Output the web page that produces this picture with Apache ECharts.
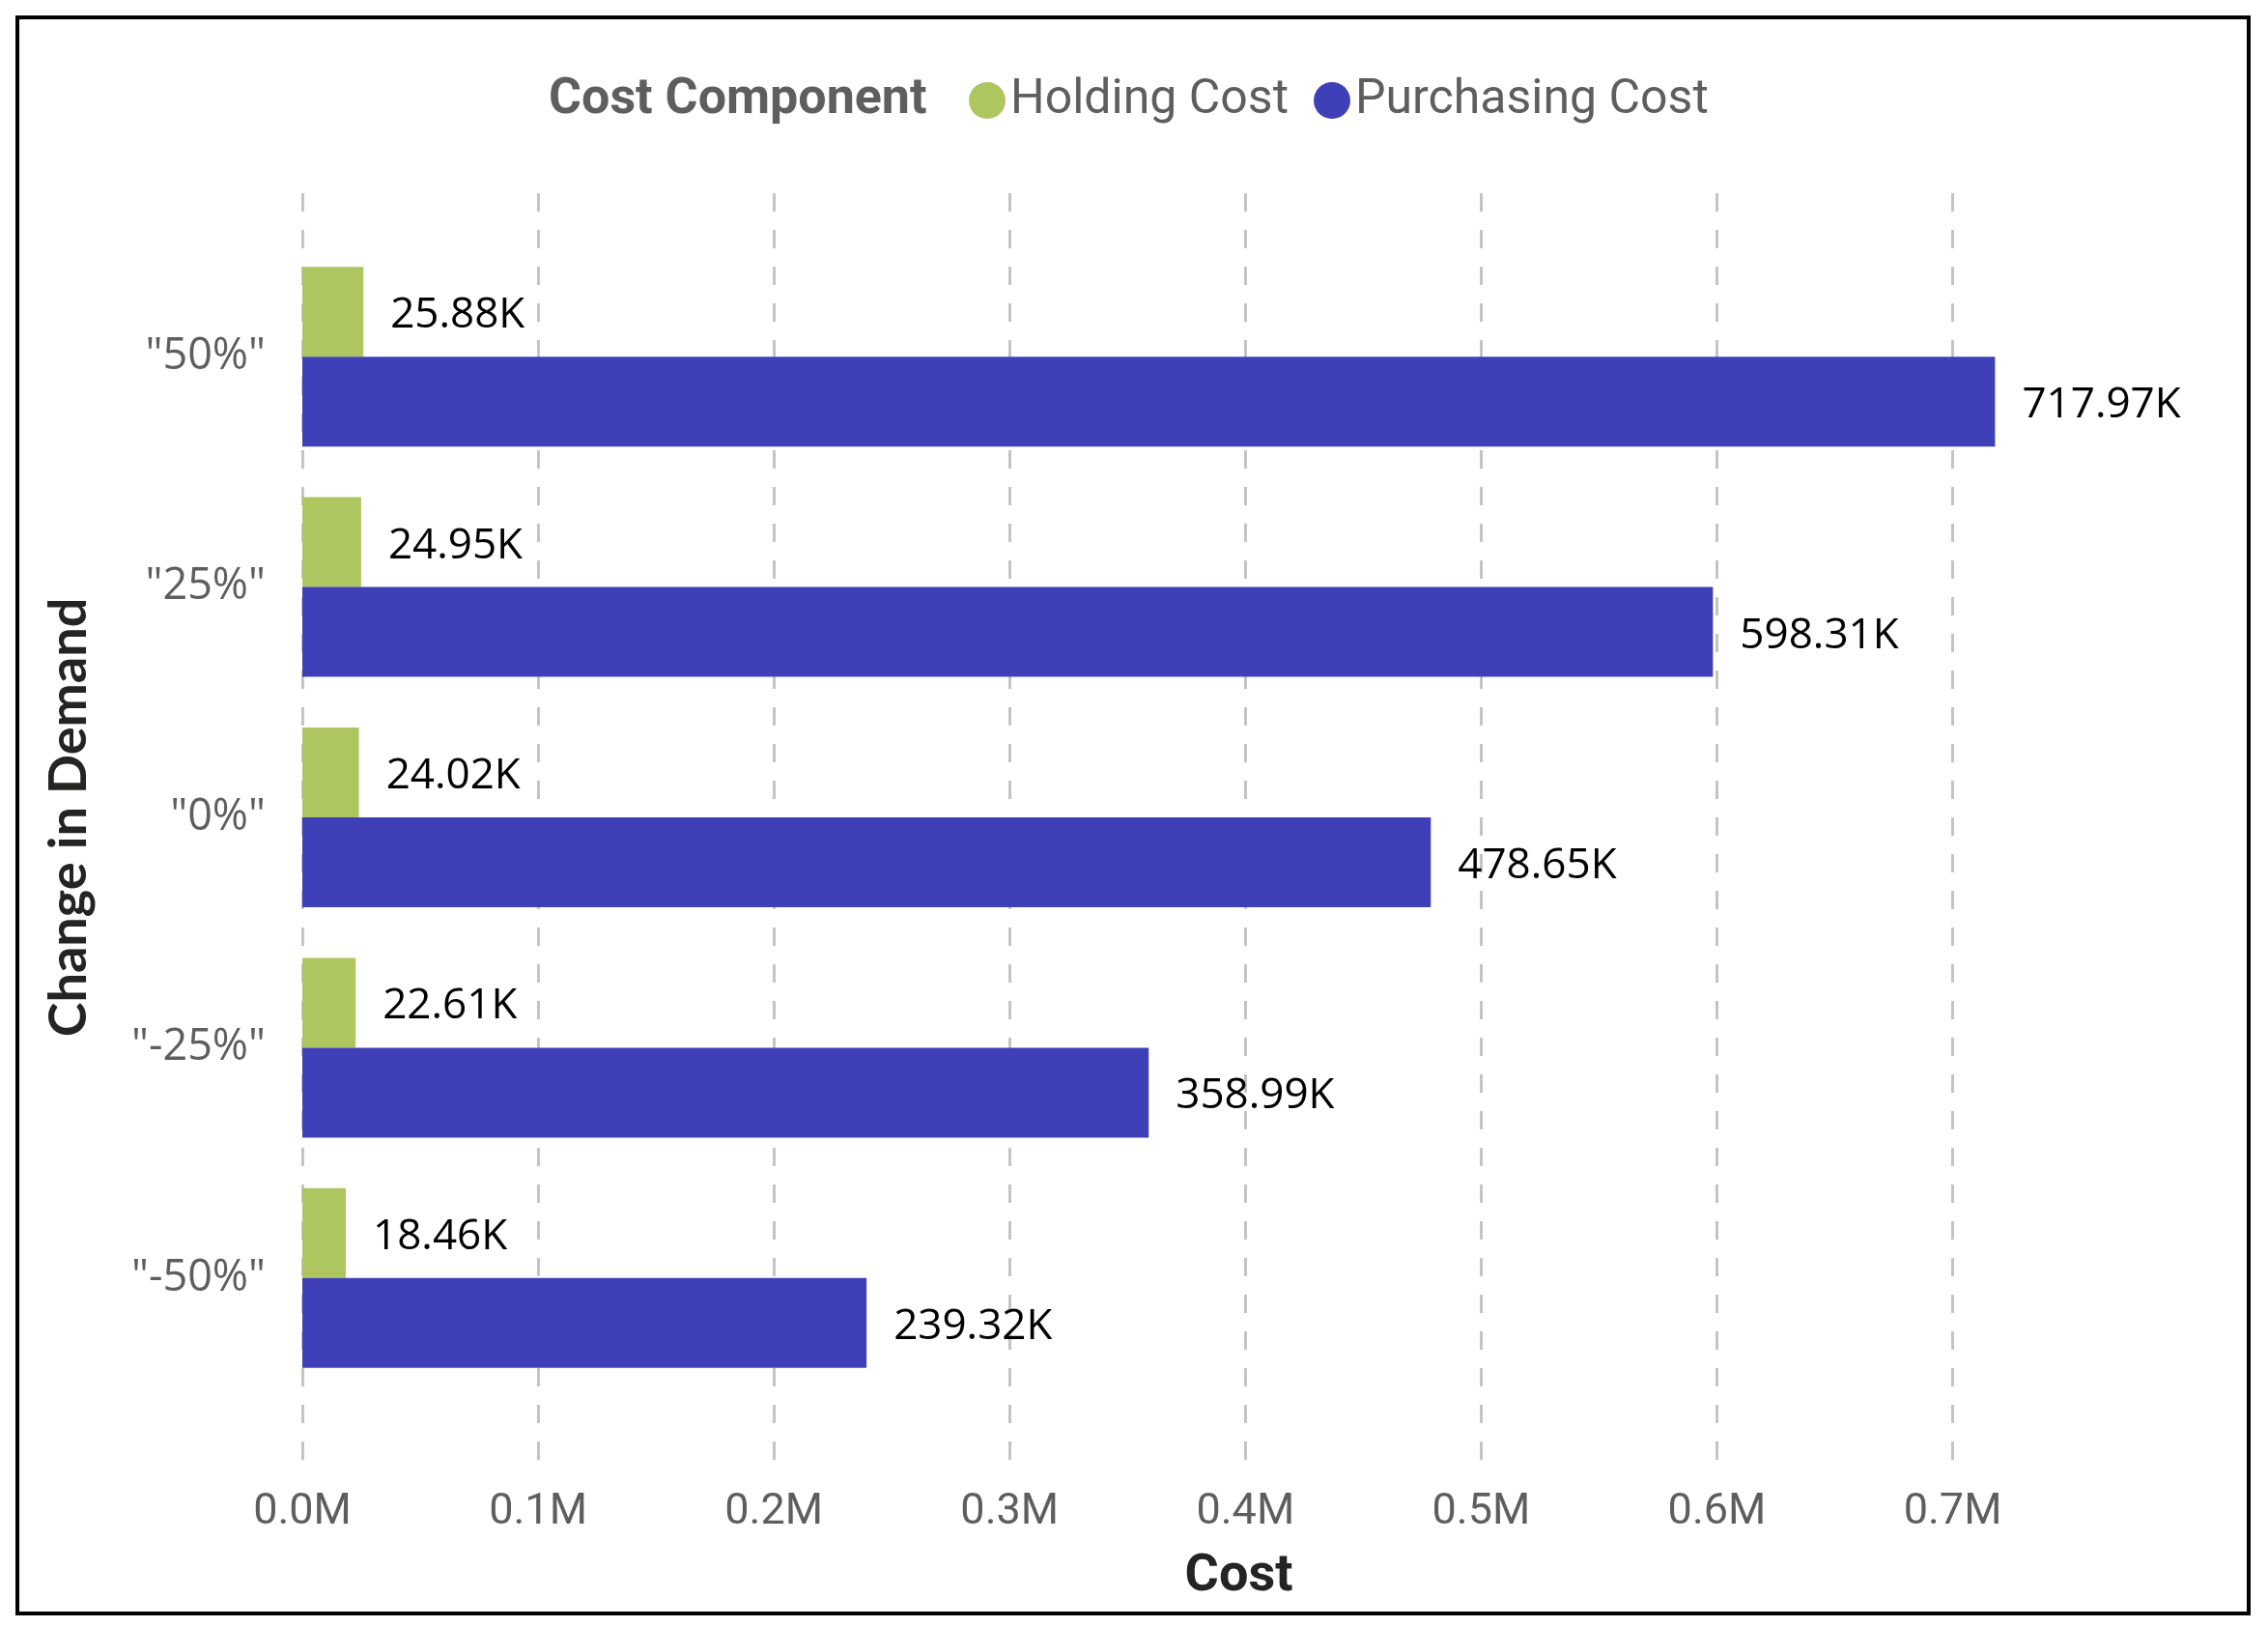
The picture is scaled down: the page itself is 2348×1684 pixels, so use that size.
<!DOCTYPE html>
<html lang="en">
<head>
    <meta charset="UTF-8">
    <title>Cost Component by Change in Demand</title>
    <script src="https://cdn.jsdelivr.net/npm/echarts@6/dist/echarts.min.js"></script>
    <style>
        html, body { margin: 0; padding: 0; background: #fff; }
        #chart { width: 2348px; height: 1684px; }
    </style>
</head>
<body>
    <div id="chart"></div>
    <script>
        // data
        var demandChanges = ['"50%"', '"25%"', '"0%"', '"-25%"', '"-50%"'];
        var holdingCost = [25880, 24950, 24020, 22610, 18460];
        var purchasingCost = [717970, 598310, 478650, 358990, 239320];
        var seriesNames = ['Holding Cost', 'Purchasing Cost'];
        var seriesColors = ['#AEC660', '#3F40B7'];

        var costMax = 760000;
        var costStep = 100000;

        var myChart = echarts.init(document.getElementById('chart'));

        function kLabel(p) {
            return (p.value / 1000).toFixed(2) + 'K';
        }

        var barLabel = {
            show: true,
            position: 'right',
            distance: 28,
            offset: [0, 4],
            color: '#000',
            fontSize: 44,
            fontFamily: 'Open Sans',
            formatter: kLabel
        };

        var option = {
            backgroundColor: '#fff',
            animation: false,
            title: {
                text: 'Cost Component',
                left: 563,
                top: 73,
                textStyle: {
                    color: '#605E5C',
                    fontSize: 52,
                    fontWeight: 'bold',
                    fontFamily: 'Roboto'
                }
            },
            legend: {
                data: seriesNames,
                left: 998,
                top: 74,
                icon: 'circle',
                itemWidth: 38,
                itemHeight: 38,
                itemGap: 26,
                textStyle: {
                    color: '#605E5C',
                    fontSize: 50,
                    fontFamily: 'Roboto'
                }
            },
            graphic: [{
                type: 'rect',
                shape: { x: 18, y: 18, width: 2310, height: 1652 },
                style: { fill: 'none', stroke: '#000', lineWidth: 4 },
                silent: true
            }],
            grid: [
                // gridlines and value labels
                { left: 313, right: 180, top: 200, bottom: 161 },
                // bars
                { left: 313, right: 180, top: 250, bottom: 242 }
            ],
            xAxis: [
                {
                    gridIndex: 0,
                    type: 'value',
                    min: 0,
                    max: costMax,
                    interval: costStep,
                    axisLine: { show: false },
                    axisTick: { show: false },
                    axisLabel: {
                        margin: 20,
                        color: '#605E5C',
                        fontSize: 45,
                        fontFamily: 'Roboto',
                        showMaxLabel: false,
                        formatter: function (v) { return (v / 1000000).toFixed(1) + 'M'; }
                    },
                    splitLine: {
                        show: true,
                        showMaxLine: false,
                        lineStyle: { color: '#C4C4C4', width: 3, type: [19, 19] }
                    },
                    name: 'Cost',
                    nameLocation: 'middle',
                    nameGap: 82,
                    nameTextStyle: {
                        color: '#252423',
                        fontSize: 54,
                        fontWeight: 'bold',
                        fontFamily: 'Roboto',
                        padding: [0, 0, 0, 84]
                    }
                },
                {
                    gridIndex: 1,
                    type: 'value',
                    min: 0,
                    max: costMax,
                    show: false,
                    splitLine: { show: false }
                }
            ],
            yAxis: [
                {
                    gridIndex: 0,
                    type: 'value',
                    min: 0,
                    max: 1,
                    show: false,
                    splitLine: { show: false }
                },
                {
                    gridIndex: 1,
                    type: 'category',
                    data: demandChanges,
                    inverse: true,
                    axisLine: { show: false },
                    axisTick: { show: false },
                    axisLabel: {
                        margin: 38,
                        color: '#605E5C',
                        fontSize: 45,
                        fontFamily: 'Open Sans'
                    },
                    name: 'Change in Demand',
                    nameLocation: 'middle',
                    nameGap: 214,
                    nameTextStyle: {
                        color: '#252423',
                        fontSize: 54,
                        fontWeight: 'bold',
                        fontFamily: 'Lato'
                    }
                }
            ],
            series: [
                {
                    name: seriesNames[0],
                    type: 'bar',
                    xAxisIndex: 1,
                    yAxisIndex: 1,
                    data: holdingCost,
                    barWidth: 93,
                    barGap: '0%',
                    itemStyle: { color: seriesColors[0] },
                    label: barLabel
                },
                {
                    name: seriesNames[1],
                    type: 'bar',
                    xAxisIndex: 1,
                    yAxisIndex: 1,
                    data: purchasingCost,
                    barWidth: 93,
                    barGap: '0%',
                    itemStyle: { color: seriesColors[1] },
                    label: barLabel
                }
            ]
        };

        myChart.setOption(option);
    </script>
</body>
</html>
